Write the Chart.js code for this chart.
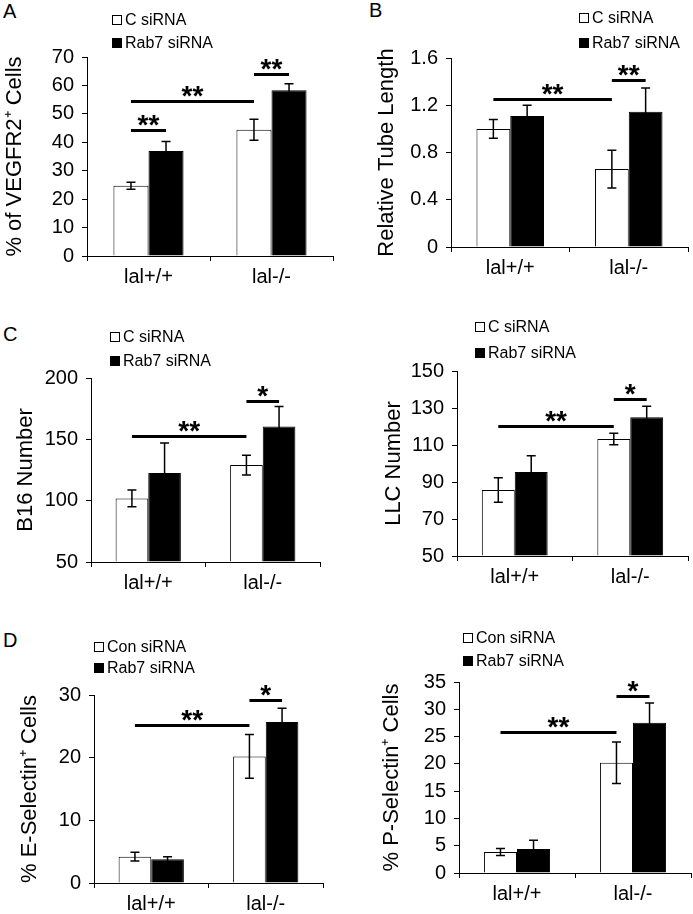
<!DOCTYPE html>
<html>
<head>
<meta charset="utf-8">
<script src="https://cdn.jsdelivr.net/npm/chart.js@4.4.1/dist/chart.umd.min.js"></script>
<style>
  body { margin: 0; background: #fff; width: 693px; height: 914px; position: relative; overflow: hidden; font-family: "Liberation Sans", Arial, sans-serif; }
  canvas { position: absolute; }
  .tag { position: absolute; font-size: 20px; line-height: 1; color: #000; }
</style>
</head>
<body>
<div class="tag" style="left:3px;top:1px">A</div>
<div class="tag" style="left:369px;top:0px">B</div>
<div class="tag" style="left:3px;top:324px">C</div>
<div class="tag" style="left:3px;top:630px">D</div>

<canvas id="a"></canvas>
<canvas id="b"></canvas>
<canvas id="c1"></canvas>
<canvas id="c2"></canvas>
<canvas id="d1"></canvas>
<canvas id="d2"></canvas>

<script>
// ---- data ----
const genotypes = ["lal+/+", "lal-/-"];
const namesC = ["C siRNA", "Rab7 siRNA"];
const namesCon = ["Con siRNA", "Rab7 siRNA"];

// A: % of VEGFR2+ cells
const ctrlA = [24.7, 44.4], ctrlErrA = [1.2, 3.7];
const rabA = [36.9, 58.3], rabErrA = [3.4, 2.3];
// significance bars: [fromDataset, fromIndex, toDataset, toIndex, y value, stars]
const sigA = [[0, 0, 1, 0, 44.4, "**"], [0, 0, 0, 1, 54.4, "**"], [0, 1, 1, 1, 64.1, "**"]];

// B: relative tube length
const ctrlB = [1.0, 0.66], ctrlErrB = [0.08, 0.16];
const rabB = [1.11, 1.145], rabErrB = [0.09, 0.2];
const sigB = [[0, 0, 0, 1, 1.257, "**"], [0, 1, 1, 1, 1.41, "**"]];

// C left: B16 number
const ctrlC1 = [101.8, 129], ctrlErrC1 = [6.8, 8];
const rabC1 = [122.5, 160.4], rabErrC1 = [24.5, 16.4];
const sigC1 = [[0, 0, 0, 1, 153, "**"], [0, 1, 1, 1, 181.4, "*"]];

// C right: LLC number
const ctrlC2 = [85.7, 113.2], ctrlErrC2 = [6.6, 3.1];
const rabC2 = [95.4, 125], rabErrC2 = [8.8, 5.9];
const sigC2 = [[0, 0, 0, 1, 120.5, "**"], [0, 1, 1, 1, 134.7, "*"]];

// D left: % E-Selectin+ cells
const ctrlD1 = [4.2, 20.2], ctrlErrD1 = [0.7, 3.5];
const rabD1 = [3.8, 25.7], rabErrD1 = [0.4, 2.2];
const sigD1 = [[0, 0, 0, 1, 25.2, "**"], [0, 1, 1, 1, 29.2, "*"]];

// D right: % P-Selectin+ cells
const ctrlD2 = [3.85, 20.2], ctrlErrD2 = [0.65, 3.8];
const rabD2 = [4.4, 27.55], rabErrD2 = [1.6, 3.6];
const sigD2 = [[0, 0, 0, 1, 25.8, "**"], [0, 1, 1, 1, 32.4, "*"]];

// ---- layout of each panel (page pixels) ----
const panels = [
  { id: "a", box: [0, 0, 345, 300], area: [87, 57, 333, 256], titleX: 15, title: "% of VEGFR2\u207A Cells",
    min: 0, max: 70, step: 10, ctrl: ctrlA, rab: rabA, errs: [ctrlErrA, rabErrA], sig: sigA, names: namesC, legend: [112, 20, 43] },
  { id: "b", box: [345, 0, 348, 300], area: [451, 58, 688, 247], titleX: 387, title: "Relative Tube Length",
    min: 0, max: 1.6, step: 0.4, ctrl: ctrlB, rab: rabB, errs: [ctrlErrB, rabErrB], sig: sigB, names: namesC, legend: [579, 18, 43] },
  { id: "c1", box: [0, 300, 345, 300], area: [91, 378, 320, 562], titleX: 26, title: "B16 Number",
    min: 50, max: 200, step: 50, ctrl: ctrlC1, rab: rabC1, errs: [ctrlErrC1, rabErrC1], sig: sigC1, names: namesC, legend: [110, 337, 361] },
  { id: "c2", box: [345, 300, 348, 300], area: [457, 371, 688, 556], titleX: 394, title: "LLC Number",
    min: 50, max: 150, step: 20, ctrl: ctrlC2, rab: rabC2, errs: [ctrlErrC2, rabErrC2], sig: sigC2, names: namesC, legend: [475, 327, 353] },
  { id: "d1", box: [0, 600, 345, 314], area: [94, 695, 323, 883], titleX: 30, title: "% E-Selectin\u207A Cells",
    min: 0, max: 30, step: 10, ctrl: ctrlD1, rab: rabD1, errs: [ctrlErrD1, rabErrD1], sig: sigD1, names: namesCon, legend: [94, 647, 668] },
  { id: "d2", box: [345, 600, 348, 314], area: [459, 682, 691, 873], titleX: 392, title: "% P-Selectin\u207A Cells",
    min: 0, max: 35, step: 5, ctrl: ctrlD2, rab: rabD2, errs: [ctrlErrD2, rabErrD2], sig: sigD2, names: namesCon, legend: [463, 638, 661] },
];

const FONT = '"Liberation Sans", Arial, sans-serif';
Chart.defaults.font.family = FONT;
Chart.defaults.color = "#000";

const X_AXIS_H = 30;

// error bars, significance bars and the little stacked legend
const extras = {
  id: "extras",
  afterDatasetsDraw(chart, args, opts) {
    const ctx = chart.ctx;
    const y = chart.scales.y;
    ctx.save();
    ctx.strokeStyle = "#000";
    ctx.lineWidth = 1.5;
    opts.errs.forEach((errs, d) => {
      chart.getDatasetMeta(d).data.forEach((bar, i) => {
        const v = chart.data.datasets[d].data[i];
        const top = y.getPixelForValue(v + errs[i]);
        const bot = y.getPixelForValue(v - errs[i]);
        ctx.beginPath();
        ctx.moveTo(bar.x, top); ctx.lineTo(bar.x, bot);
        ctx.moveTo(bar.x - 4.5, top); ctx.lineTo(bar.x + 4.5, top);
        ctx.moveTo(bar.x - 4.5, bot); ctx.lineTo(bar.x + 4.5, bot);
        ctx.stroke();
      });
    });

    ctx.font = "bold 28px " + FONT;
    ctx.textAlign = "center";
    ctx.textBaseline = "alphabetic";
    ctx.fillStyle = "#000";
    opts.sig.forEach(s => {
      const x1 = chart.getDatasetMeta(s[0]).data[s[1]].x;
      const x2 = chart.getDatasetMeta(s[2]).data[s[3]].x;
      const py = Math.round(y.getPixelForValue(s[4])) + 0.5;
      ctx.lineWidth = 3;
      ctx.beginPath(); ctx.moveTo(x1, py); ctx.lineTo(x2, py); ctx.stroke();
      const m = ctx.measureText(s[5]);
      ctx.fillText(s[5], (x1 + x2) / 2, py - 5 - m.actualBoundingBoxDescent);
    });
    ctx.restore();
  },
  afterDraw(chart, args, opts) {
    const ctx = chart.ctx;
    const [lx, y1, y2] = opts.legend;
    ctx.save();
    ctx.font = "16px " + FONT;
    ctx.textAlign = "left";
    ctx.textBaseline = "middle";
    chart.data.datasets.forEach((ds, d) => {
      const cy = Math.round(d === 0 ? y1 : y2);
      ctx.fillStyle = ds.backgroundColor;
      ctx.fillRect(lx, cy - 5, 10, 10);
      ctx.strokeStyle = "#000";
      ctx.lineWidth = 1;
      ctx.strokeRect(lx + 0.5, cy - 4.5, 9, 9);
      ctx.fillStyle = "#000";
      ctx.fillText(ds.label, lx + 13, cy + 1);
    });
    ctx.restore();
  }
};

panels.forEach(p => {
  const [bx, by, bw, bh] = p.box;
  const cv = document.getElementById(p.id);
  cv.width = bw; cv.height = bh;
  cv.style.left = bx + "px"; cv.style.top = by + "px";

  const padLeft = p.titleX - 11 - bx;
  const yWidth = p.area[0] - bx - padLeft;
  const pad = {
    left: padLeft,
    top: p.area[1] - by,
    right: bx + bw - p.area[2],
    bottom: Math.max(0, by + bh - p.area[3] - X_AXIS_H)
  };

  new Chart(cv, {
    type: "bar",
    data: {
      labels: genotypes,
      datasets: [
        { label: p.names[0], data: p.ctrl, backgroundColor: "#fff", borderColor: "#000", borderWidth: 1, base: p.min },
        { label: p.names[1], data: p.rab, backgroundColor: "#000", borderColor: "#000", borderWidth: 1, base: p.min }
      ]
    },
    options: {
      responsive: false,
      animation: false,
      events: [],
      layout: { padding: pad },
      datasets: { bar: { categoryPercentage: 0.57, barPercentage: 1 } },
      plugins: {
        legend: { display: false },
        tooltip: { enabled: false },
        extras: { errs: p.errs, sig: p.sig, legend: [p.legend[0] - bx, p.legend[1] - by, p.legend[2] - by] }
      },
      scales: {
        x: {
          grid: { display: true, drawOnChartArea: false, drawTicks: true, tickLength: 5, color: "#000", offset: true },
          border: { display: true, color: "#000", width: 1 },
          ticks: { color: "#000", font: { size: 20 }, padding: 4, maxRotation: 0 },
          afterFit: s => { s.height = X_AXIS_H; }
        },
        y: {
          min: p.min, max: p.max,
          grid: { display: true, drawOnChartArea: false, drawTicks: true, tickLength: 5, color: "#000" },
          border: { display: true, color: "#000", width: 1 },
          ticks: { stepSize: p.step, color: "#000", font: { size: 20 }, padding: 8 },
          title: { display: true, text: p.title, color: "#000", font: { size: 22, lineHeight: 1 }, padding: 0 },
          afterFit: s => { s.width = yWidth; }
        }
      }
    },
    plugins: [extras]
  });
});
</script>
</body>
</html>
